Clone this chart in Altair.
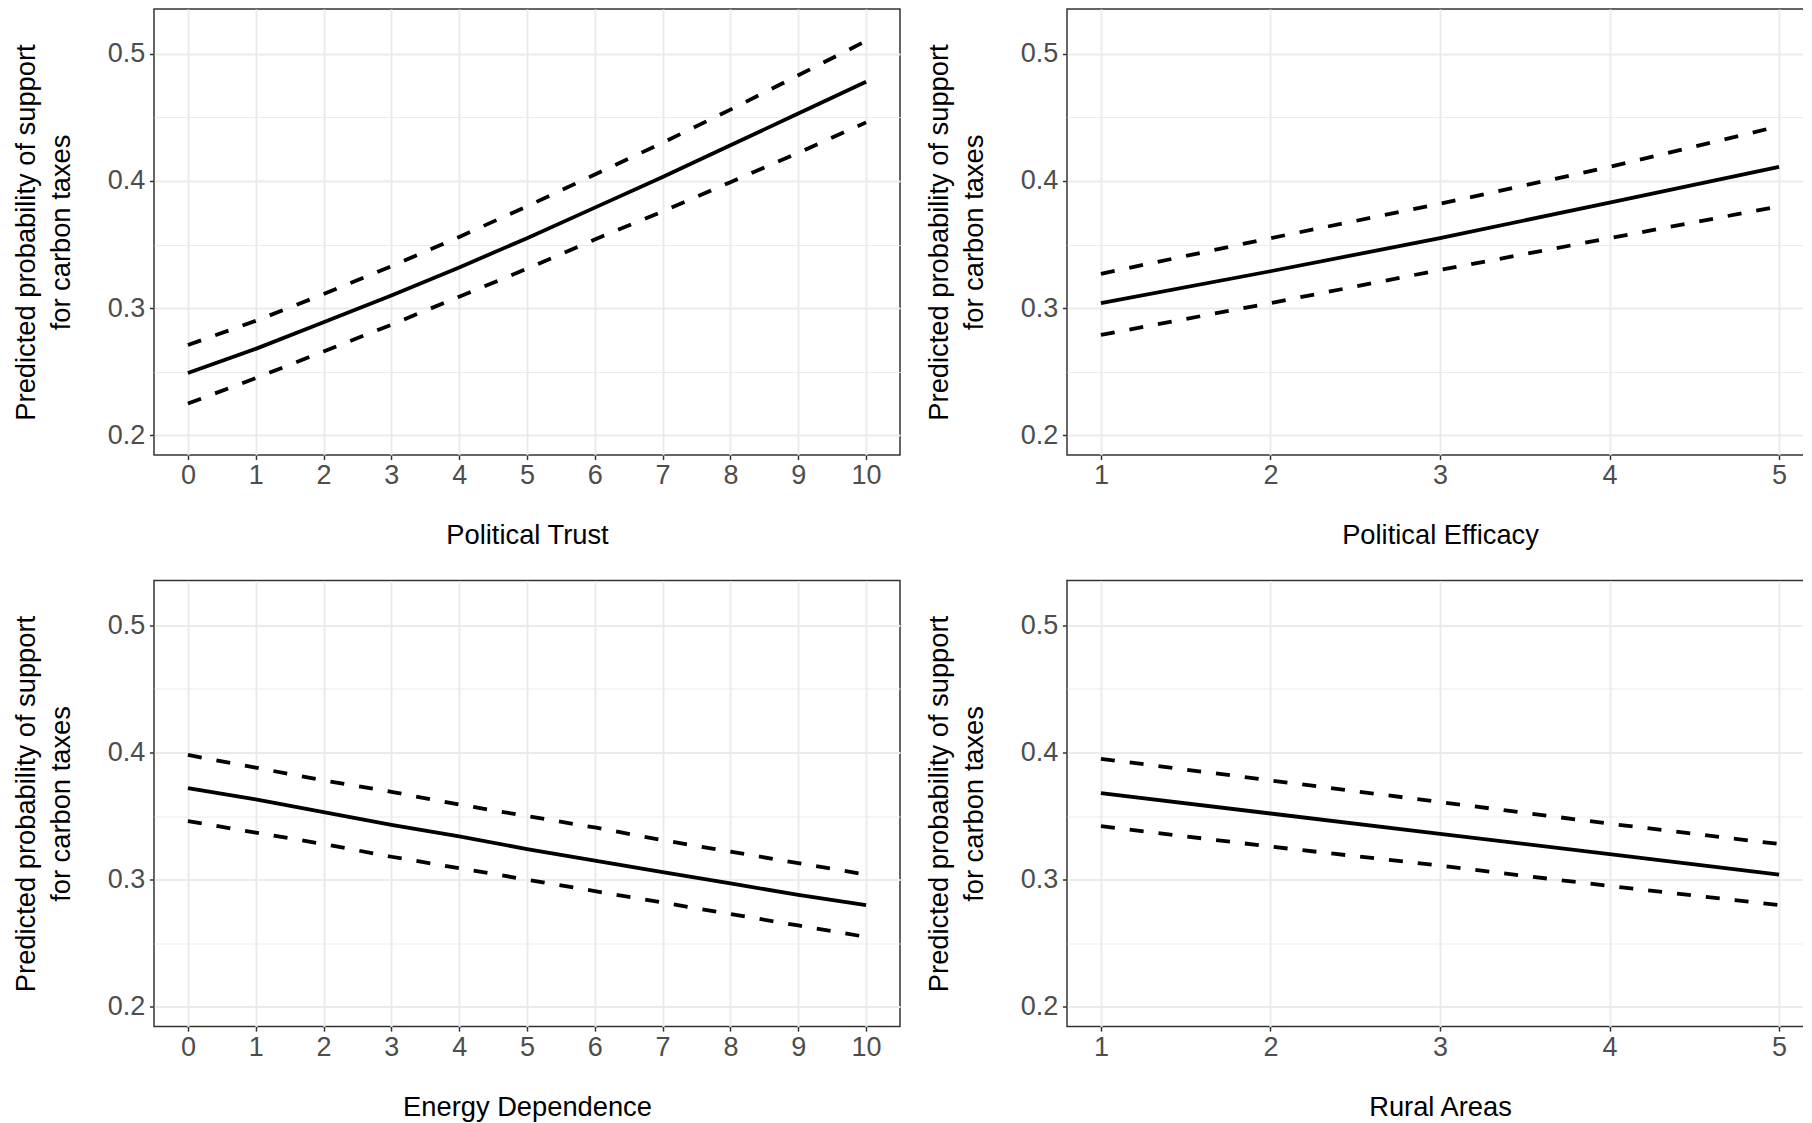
import altair as alt
import pandas as pd

Y_TITLE = ["Predicted probability of support", "for carbon taxes"]

# Political Trust (0-10)
trust_x = [0, 1, 2, 3, 4, 5, 6, 7, 8, 9, 10]
trust_est = [0.249, 0.268, 0.289, 0.310, 0.332, 0.355, 0.379, 0.403, 0.428, 0.453, 0.478]
trust_lo = [0.225, 0.245, 0.266, 0.287, 0.309, 0.331, 0.354, 0.376, 0.399, 0.422, 0.446]
trust_hi = [0.271, 0.290, 0.311, 0.333, 0.356, 0.380, 0.405, 0.430, 0.456, 0.483, 0.510]

# Political Efficacy (1-5)
eff_x = [1, 2, 3, 4, 5]
eff_est = [0.304, 0.329, 0.355, 0.383, 0.411]
eff_lo = [0.279, 0.304, 0.330, 0.355, 0.380]
eff_hi = [0.327, 0.355, 0.382, 0.411, 0.443]

# Energy Dependence (0-10)
en_x = [0, 1, 2, 3, 4, 5, 6, 7, 8, 9, 10]
en_est = [0.372, 0.363, 0.353, 0.343, 0.334, 0.324, 0.315, 0.306, 0.297, 0.288, 0.280]
en_lo = [0.346, 0.337, 0.328, 0.318, 0.309, 0.300, 0.291, 0.282, 0.273, 0.264, 0.255]
en_hi = [0.398, 0.388, 0.378, 0.369, 0.359, 0.350, 0.341, 0.331, 0.322, 0.313, 0.304]

# Rural Areas (1-5)
ru_x = [1, 2, 3, 4, 5]
ru_est = [0.368, 0.352, 0.336, 0.320, 0.304]
ru_lo = [0.342, 0.326, 0.311, 0.295, 0.280]
ru_hi = [0.395, 0.378, 0.361, 0.344, 0.328]

Y_DOMAIN = [0.1846, 0.5351]
Y_VALUES = [0.2, 0.25, 0.3, 0.35, 0.4, 0.45, 0.5]

W, H = 746, 446
LW = 3.8
DASH = [14, 15]


def make_df(xs, est, lo, hi):
    rows = []
    for name, vals in (("estimate", est), ("lower", lo), ("upper", hi)):
        for x, v in zip(xs, vals):
            rows.append({"x": x, "p": v, "band": name})
    return pd.DataFrame(rows)


def panel(xs, est, lo, hi, title, xdomain, xvalues):
    df = make_df(xs, est, lo, hi)
    xaxis = alt.Axis(
        title=title,
        values=xvalues,
        labelExpr="datum.value % 1 == 0 ? datum.label : ''",
        format="d",
        tickOpacity={"condition": {"test": "datum.value % 1 != 0", "value": 0}, "value": 1},
        gridWidth={"condition": {"test": "datum.value % 1 != 0", "value": 1.1}, "value": 2},
        labelOverlap=False,
        labelPadding=3.2,
        titlePadding=33,
    )
    yaxis = alt.Axis(
        title=Y_TITLE,
        values=Y_VALUES,
        format=".1f",
        labelExpr="round(datum.value * 100) % 10 == 0 ? datum.label : ''",
        tickOpacity={"condition": {"test": "round(datum.value * 100) % 10 != 0", "value": 0}, "value": 1},
        gridWidth={"condition": {"test": "round(datum.value * 100) % 10 != 0", "value": 1.1}, "value": 2},
        labelOverlap=False,
        labelPadding=4.6,
        titlePadding=31.5,
        titleLineHeight=35,
    )
    enc_x = alt.X("x:Q", scale=alt.Scale(domain=xdomain, nice=False, zero=False), axis=xaxis)
    enc_y = alt.Y("p:Q", scale=alt.Scale(domain=Y_DOMAIN, nice=False, zero=False), axis=yaxis)
    solid = (
        alt.Chart(df)
        .transform_filter("datum.band == 'estimate'")
        .mark_line(color="black", strokeWidth=LW, strokeCap="butt")
        .encode(x=enc_x, y=enc_y)
    )
    dashed = (
        alt.Chart(df)
        .transform_filter("datum.band != 'estimate'")
        .mark_line(color="black", strokeWidth=LW, strokeDash=DASH, strokeCap="butt")
        .encode(x="x:Q", y="p:Q", detail="band:N")
    )
    return alt.layer(solid, dashed).properties(width=W, height=H)


p1 = panel(trust_x, trust_est, trust_lo, trust_hi, "Political Trust",
           [-0.5, 10.5], [v / 2 for v in range(0, 21)])
p2 = panel(eff_x, eff_est, eff_lo, eff_hi, "Political Efficacy",
           [0.8, 5.2], [1, 1.5, 2, 2.5, 3, 3.5, 4, 4.5, 5])
p3 = panel(en_x, en_est, en_lo, en_hi, "Energy Dependence",
           [-0.5, 10.5], [v / 2 for v in range(0, 21)])
p4 = panel(ru_x, ru_est, ru_lo, ru_hi, "Rural Areas",
           [0.8, 5.2], [1, 1.5, 2, 2.5, 3, 3.5, 4, 4.5, 5])

chart = (
    alt.concat(p1, p2, p3, p4, columns=2, spacing={"row": 125.5, "column": 167}, bounds="flush")
    .properties(padding={"left": 4, "top": 0, "right": -11, "bottom": 0})
    .configure(font="Liberation Sans")
    .configure_view(stroke="#333333", strokeWidth=1.5)
    .configure_axis(
        domain=False,
        gridColor="#EBEBEB",
        labelFont="Liberation Sans",
        labelFontSize=27,
        labelColor="#4D4D4D",
        tickColor="#333333",
        tickSize=4.6,
        tickWidth=1.5,
        titleFont="Liberation Sans",
        titleFontSize=27.3,
        titleFontWeight="normal",
        titleColor="black",
    )
)

chart.save("out.html", embed_options={"renderer": "svg", "actions": False})
